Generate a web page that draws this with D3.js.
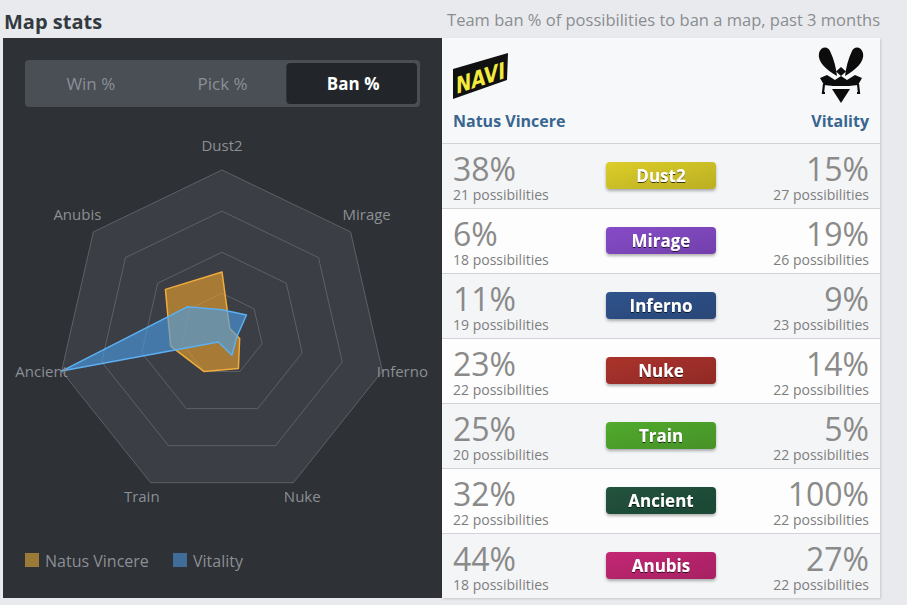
<!DOCTYPE html>
<html>
<head>
<meta charset="utf-8">
<script src="https://cdn.jsdelivr.net/npm/d3@7/dist/d3.min.js"></script>
<style>
  html, body { margin: 0; padding: 0; background: #e9eaed; }
  svg { display: block; font-family: "Open Sans", "Noto Sans", sans-serif; }
</style>
</head>
<body>
<svg id="chart" width="907" height="605"></svg>
<script>
// ---------- data ----------
const maps = ["Dust2", "Mirage", "Inferno", "Nuke", "Train", "Ancient", "Anubis"];
const naviBan = [38, 6, 11, 23, 25, 32, 44];
const naviPossibilities = [21, 18, 19, 22, 20, 22, 18];
const vitalityBan = [15, 19, 9, 14, 5, 100, 27];
const vitalityPossibilities = [27, 26, 23, 22, 22, 22, 22];
const teams = ["Natus Vincere", "Vitality"];
const tabs = ["Win %", "Pick %", "Ban %"];
const ringTicks = [25, 50, 75, 100];

// ---------- styles ----------
const mapColors = ["#c9bc26", "#7b45b8", "#2c4c80", "#9c2e29", "#4b9c2a", "#1f4c38", "#b3246a"];
const teamFill = ["#eaa22c", "#4a9ce6"];
const teamStroke = ["#f0ac3c", "#5cb0f2"];
const legendColors = ["#9b7b37", "#3f6c98"];

const svg = d3.select("#chart");
const defs = svg.append("defs");

const shadow = defs.append("filter").attr("id", "badgeShadow").attr("x", "-10%").attr("y", "-20%").attr("width", "120%").attr("height", "160%");
shadow.append("feDropShadow").attr("dx", 0).attr("dy", 2).attr("stdDeviation", 1.5).attr("flood-color", "#000").attr("flood-opacity", 0.3);
const tshadow = defs.append("filter").attr("id", "textShadow").attr("x", "-10%").attr("y", "-20%").attr("width", "120%").attr("height", "160%");
tshadow.append("feDropShadow").attr("dx", 0).attr("dy", 1).attr("stdDeviation", 0.6).attr("flood-color", "#000").attr("flood-opacity", 0.7);
const pshadow = defs.append("filter").attr("id", "panelShadow").attr("x", "-5%").attr("y", "-5%").attr("width", "110%").attr("height", "110%");
pshadow.append("feDropShadow").attr("dx", 1).attr("dy", 1).attr("stdDeviation", 1).attr("flood-color", "#000").attr("flood-opacity", 0.15);

mapColors.forEach((c, i) => {
  const g = defs.append("linearGradient").attr("id", "mapGrad" + i).attr("x1", 0).attr("y1", 0).attr("x2", 1).attr("y2", 1);
  g.append("stop").attr("offset", "0%").attr("stop-color", d3.color(c).brighter(0.25));
  g.append("stop").attr("offset", "55%").attr("stop-color", c);
  g.append("stop").attr("offset", "100%").attr("stop-color", d3.color(c).darker(0.2));
});

// ---------- title ----------
svg.append("text").attr("x", 4).attr("y", 29).attr("font-size", 20).attr("font-weight", 700)
  .attr("fill", "#333940").text("Map stats");
svg.append("text").attr("x", 880).attr("y", 26).attr("text-anchor", "end").attr("font-size", 16.5)
  .attr("fill", "#8a8d91").text("Team ban % of possibilities to ban a map, past 3 months");

// ---------- left panel ----------
svg.append("rect").attr("x", 3).attr("y", 38).attr("width", 439).attr("height", 560).attr("fill", "#2e3136");

// tabs
svg.append("rect").attr("x", 25).attr("y", 60).attr("width", 395).attr("height", 47).attr("rx", 4).attr("fill", "#4a4e55");
const tabX = d3.scaleBand().domain(tabs).range([25, 420]);
svg.append("rect").attr("x", tabX("Ban %") - 2).attr("y", 63).attr("width", tabX.bandwidth() - 1).attr("height", 41)
  .attr("rx", 4).attr("fill", "#22262b");
svg.selectAll(".tab").data(tabs).join("text")
  .attr("x", d => tabX(d) + tabX.bandwidth() / 2 + (d === "Ban %" ? -1 : 0))
  .attr("y", 90).attr("text-anchor", "middle").attr("font-size", 17)
  .attr("font-weight", d => d === "Ban %" ? 700 : 400)
  .attr("fill", d => d === "Ban %" ? "#ffffff" : "#8b8f95").text(d => d);

// radar
const cx = 222, cy = 334.5, R = 164.5;
const r = d3.scaleLinear().domain([0, 100]).range([0, R]);
const angle = d3.scaleLinear().domain([0, maps.length]).range([0, 2 * Math.PI]);
const radial = d3.lineRadial().angle((d, i) => angle(i)).radius(d => r(d)).curve(d3.curveLinearClosed);
const radar = svg.append("g").attr("transform", `translate(${cx},${cy})`);

radar.append("path").attr("d", radial(maps.map(() => 100))).attr("fill", "#3b3e44");
radar.selectAll(".ring").data(ringTicks).join("path")
  .attr("d", t => radial(maps.map(() => t)))
  .attr("fill", "none").attr("stroke", "#5d6167").attr("stroke-width", 1);

[naviBan, vitalityBan].forEach((vals, k) => {
  radar.append("path").attr("d", radial(vals))
    .attr("fill", teamFill[k]).attr("fill-opacity", 0.62)
    .attr("stroke", teamStroke[k]).attr("stroke-width", 1.5).attr("stroke-linejoin", "round");
});

radar.selectAll(".axlabel").data(maps).join("text")
  .attr("x", (d, i) => Math.sin(angle(i)) * 185)
  .attr("y", (d, i) => -Math.cos(angle(i)) * 185 - 5)
  .attr("text-anchor", "middle").attr("dominant-baseline", "central")
  .attr("font-size", 15).attr("fill", "#8c8f94").text(d => d);

// legend
const leg = svg.append("g").attr("transform", "translate(25,553)");
const legX = [0, 148];
teams.forEach((t, i) => {
  leg.append("rect").attr("x", legX[i]).attr("y", 0).attr("width", 14).attr("height", 14).attr("fill", legendColors[i]);
  leg.append("text").attr("x", legX[i] + 20).attr("y", 13.5).attr("font-size", 16).attr("fill", "#8c8f94").text(t);
});

// ---------- right panel ----------
const px0 = 442, px1 = 880, headerBottom = 143, rowH = 65;
svg.append("rect").attr("x", px0).attr("y", 38).attr("width", px1 - px0).attr("height", 560)
  .attr("fill", "#f7f8fa").attr("filter", "url(#panelShadow)");

const rowY = d3.scaleBand().domain(maps).range([headerBottom, headerBottom + rowH * maps.length]);
const rows = svg.selectAll(".row").data(maps).join("g").attr("transform", d => `translate(0,${rowY(d)})`);
rows.append("rect").attr("x", px0).attr("y", 0).attr("width", px1 - px0).attr("height", rowH)
  .attr("fill", (d, i) => i % 2 === 0 ? "#f4f5f7" : "#fdfdfd");
rows.append("line").attr("x1", px0).attr("x2", px1).attr("y1", 0.5).attr("y2", 0.5).attr("stroke", "#d2d3d6");

const fmtPct = d => d + "%";
rows.append("text").attr("x", 453).attr("y", 38).attr("font-size", 32).attr("fill", "#8a8a8a").text((d, i) => fmtPct(naviBan[i]));
rows.append("text").attr("x", 453).attr("y", 57).attr("font-size", 14).attr("fill", "#7e7e7e").text((d, i) => naviPossibilities[i] + " possibilities");
rows.append("text").attr("x", 869).attr("y", 38).attr("text-anchor", "end").attr("font-size", 32).attr("fill", "#8a8a8a").text((d, i) => fmtPct(vitalityBan[i]));
rows.append("text").attr("x", 869).attr("y", 57).attr("text-anchor", "end").attr("font-size", 14).attr("fill", "#7e7e7e").text((d, i) => vitalityPossibilities[i] + " possibilities");

rows.append("rect").attr("x", 606).attr("y", 19).attr("width", 110).attr("height", 27).attr("rx", 4)
  .attr("fill", (d, i) => `url(#mapGrad${i})`).attr("filter", "url(#badgeShadow)");
rows.append("text").attr("x", 661).attr("y", 38.5).attr("text-anchor", "middle").attr("font-size", 17)
  .attr("font-weight", 700).attr("fill", "#ffffff").attr("filter", "url(#textShadow)").text(d => d);

// header
svg.append("text").attr("x", 453).attr("y", 127).attr("font-size", 16).attr("font-weight", 700).attr("fill", "#38668f").text(teams[0]);
svg.append("text").attr("x", 869).attr("y", 127).attr("text-anchor", "end").attr("font-size", 16).attr("font-weight", 700).attr("fill", "#38668f").text(teams[1]);

// NaVi logo
const navi = svg.append("g");
navi.append("path").attr("d", "M453,69 L508,53 L507,80 L453,99 Z").attr("fill", "#111");
navi.append("text").attr("transform", "translate(456,94) skewY(-18)").attr("font-size", 23)
  .attr("font-weight", 800).attr("font-family", "'DejaVu Sans', sans-serif")
  .attr("textLength", 49).attr("lengthAdjust", "spacingAndGlyphs")
  .attr("fill", "#f2ea3c").text("NAVI");

// Vitality logo
const vit = svg.append("g").attr("transform", "translate(841,76)").attr("fill", "#0c0c0c");
vit.append("path").attr("d", "M-4,0 C-14,-6 -24,-14 -22,-23 C-20,-30 -13,-30 -11,-25 C-7,-17 -5,-8 -4,0 Z");
vit.append("path").attr("d", "M4,0 C14,-6 24,-14 22,-23 C20,-30 13,-30 11,-25 C7,-17 5,-8 4,0 Z");
vit.append("path").attr("d", "M0,-9 L5,-4.5 L0,0 L-5,-4.5 Z");
vit.append("path").attr("d", "M-21,2 L-14,-1 L-6,4 L0,0 L6,4 L14,-1 L21,2 L17,9 L8,10 L-8,10 L-17,9 Z");
vit.append("path").attr("d", "M-9,13 L9,13 L0,27 Z");
vit.append("path").attr("d", "M-17,8 L-18,17 L-16,17 M17,8 L18,17 L16,17").attr("stroke", "#0c0c0c").attr("stroke-width", 2.2).attr("fill", "none");
</script>
</body>
</html>
